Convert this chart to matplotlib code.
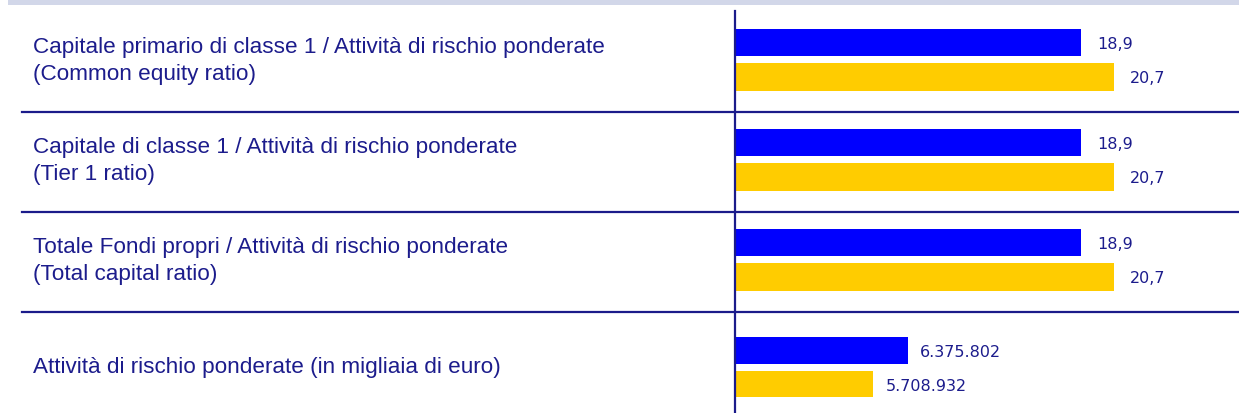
import matplotlib.pyplot as plt
from matplotlib.lines import Line2D
from matplotlib.patches import Rectangle

# Data
ratio_labels = [
    "Capitale primario di classe 1 / Attività di rischio ponderate\n(Common equity ratio)",
    "Capitale di classe 1 / Attività di rischio ponderate\n(Tier 1 ratio)",
    "Totale Fondi propri / Attività di rischio ponderate\n(Total capital ratio)",
]
ratio_blue = [18.9, 18.9, 18.9]
ratio_yellow = [20.7, 20.7, 20.7]

rwa_label = "Attività di rischio ponderate (in migliaia di euro)"
rwa_blue = 6375802
rwa_yellow = 5708932

BLUE = "#0000FF"
YELLOW = "#FFCC00"
NAVY = "#1B1B8A"
TXT = "#1C1C8C"

W, H = 1239, 414
fig = plt.figure(figsize=(W / 100, H / 100), dpi=100)


def fx(px):
    return px / W


def fy(py):
    return 1 - py / H


def fmt_dec(v):
    return f"{v:.1f}".replace(".", ",")


def fmt_int(v):
    return f"{v:,}".replace(",", ".")


# top strip
fig.patches.append(Rectangle((fx(8), fy(6)), 1 - fx(8), 6 / H,
                             transform=fig.transFigure, color="#D2D7E9", lw=0))

# ratios axes
ax1 = fig.add_axes([fx(735), fy(313), 1 - fx(735), 300 / H])
ax1.set_xlim(0, 504 / 18.3)
ax1.set_ylim(2.5, -0.5)
for i in range(3):
    yb = i - 0.195
    yy = i + 0.145
    ax1.barh(yb, ratio_blue[i], height=0.27, color=BLUE, lw=0)
    ax1.barh(yy, ratio_yellow[i], height=0.28, color=YELLOW, lw=0)
    ax1.annotate(fmt_dec(ratio_blue[i]), xy=(ratio_blue[i], yb), xytext=(11.5, -1),
                 textcoords="offset points", va="center", ha="left",
                 fontsize=11.5, color=TXT)
    ax1.annotate(fmt_dec(ratio_yellow[i]), xy=(ratio_yellow[i], yy), xytext=(11.5, -1),
                 textcoords="offset points", va="center", ha="left",
                 fontsize=11.5, color=TXT)
ax1.axis("off")

# risk weighted assets axes
ax2 = fig.add_axes([fx(735), 0, 1 - fx(735), fy(313)])
x0 = 3056000
ax2.set_xlim(x0, x0 + 504 / 5.203e-5)
ax2.set_ylim(0.5, -0.5)
ax2.barh(-0.12, rwa_blue, height=0.27, color=BLUE, lw=0)
ax2.barh(0.215, rwa_yellow, height=0.26, color=YELLOW, lw=0)
ax2.annotate(fmt_int(rwa_blue), xy=(rwa_blue, -0.12), xytext=(8.5, -1),
             textcoords="offset points", va="center", ha="left",
             fontsize=11.5, color=TXT)
ax2.annotate(fmt_int(rwa_yellow), xy=(rwa_yellow, 0.215), xytext=(9.5, -1),
             textcoords="offset points", va="center", ha="left",
             fontsize=11.5, color=TXT)
ax2.axis("off")

# left labels, one line at a time
label_base = [53, 153, 253]
for lab, py in zip(ratio_labels, label_base):
    for k, line in enumerate(lab.split("\n")):
        fig.text(fx(33), fy(py + 27 * k), line, ha="left", va="baseline",
                 fontsize=16.2, family="Liberation Sans", color=TXT)
fig.text(fx(33), fy(373), rwa_label, ha="left", va="baseline", fontsize=16.2,
         family="Liberation Sans", color=TXT)

# separators and vertical axis line
for py in [113, 213, 313]:
    fig.lines.append(Line2D([fx(22), 1], [fy(py), fy(py)], transform=fig.transFigure,
                            color=NAVY, lw=1.6))
fig.lines.append(Line2D([fx(735), fx(735)], [fy(12), 0], transform=fig.transFigure,
                        color=NAVY, lw=1.6))

fig.savefig("out.png", dpi=100)
